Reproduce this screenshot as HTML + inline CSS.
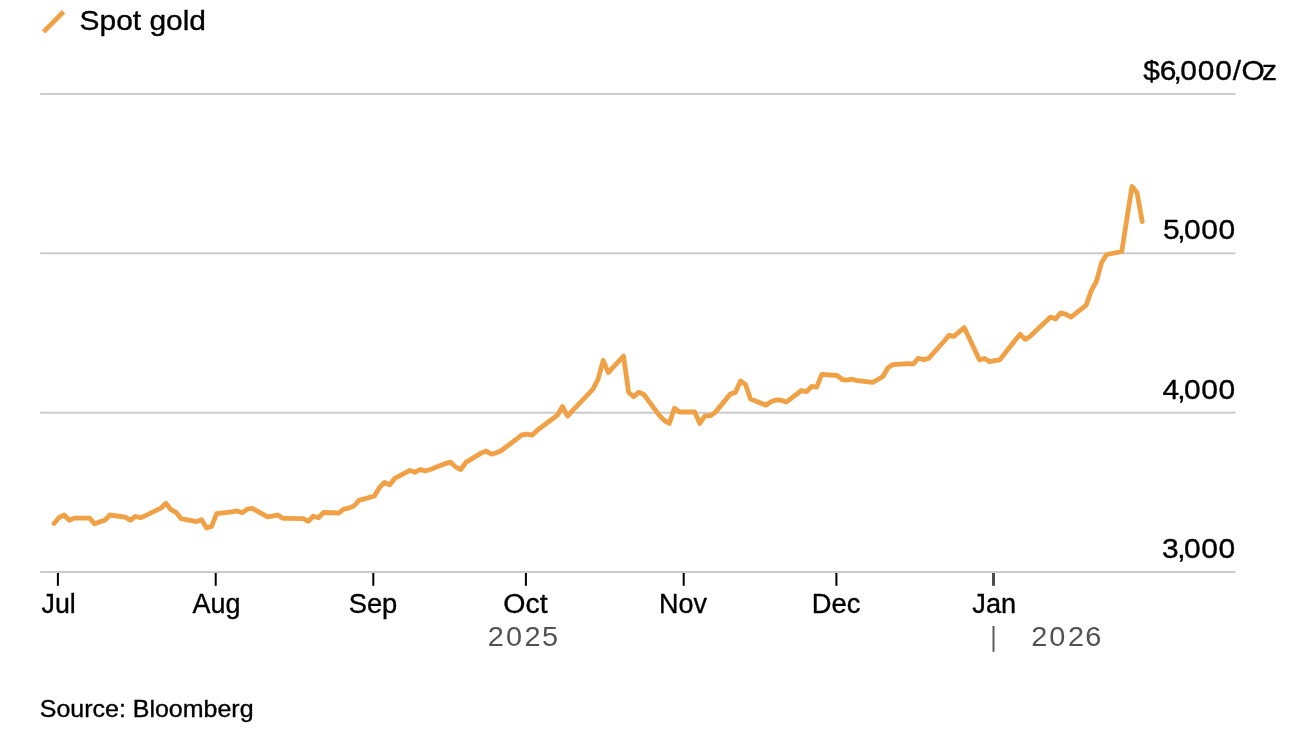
<!DOCTYPE html>
<html lang="en"><head><meta charset="utf-8"><title>Spot gold</title>
<style>html,body{margin:0;padding:0;background:#fff}svg{display:block}text{font-kerning:normal}text.k{stroke:#000;stroke-width:0.35px;stroke-linejoin:round}</style>
</head><body>
<svg width="1294" height="738" viewBox="0 0 1294 738" font-family='"Liberation Sans", Arial, Helvetica, sans-serif'>
<rect width="1294" height="738" fill="#fff"/>
<rect x="40.2" y="93.0" width="1195.2" height="2" fill="#cbcbcb"/>
<rect x="40.2" y="252.3" width="1195.2" height="2" fill="#cbcbcb"/>
<rect x="40.2" y="411.7" width="1195.2" height="2" fill="#cbcbcb"/>
<rect x="40.2" y="571.0" width="1195.2" height="2" fill="#cbcbcb"/>
<rect x="56.9" y="573" width="2" height="12.8" fill="#000"/>
<rect x="214.7" y="573" width="2" height="12.8" fill="#000"/>
<rect x="372.3" y="573" width="2" height="12.8" fill="#000"/>
<rect x="524.9" y="573" width="2" height="12.8" fill="#000"/>
<rect x="682.7" y="573" width="2" height="12.8" fill="#000"/>
<rect x="835.4" y="573" width="2" height="12.8" fill="#000"/>
<rect x="992" y="573" width="3" height="12.8" fill="#4d4d4d"/>
<rect x="992.5" y="626" width="2" height="25.8" fill="#5c5c5c"/>
<path d="M54.0,523.5 L59.1,517.5 L64.2,515.0 L69.3,520.2 L74.4,518.1 L89.6,518.1 L94.7,523.9 L99.8,521.8 L104.9,520.2 L109.9,515.0 L125.2,517.1 L130.3,520.2 L135.4,516.5 L140.5,517.7 L145.5,515.6 L160.8,508.2 L165.9,503.2 L171.0,509.7 L176.1,512.4 L181.1,518.6 L196.4,521.6 L201.5,519.8 L206.6,528.0 L211.6,526.4 L216.7,513.6 L232.0,511.9 L237.1,510.9 L242.2,512.8 L247.2,509.1 L252.3,508.4 L267.6,516.8 L272.7,516.1 L277.7,515.0 L282.8,518.3 L287.9,518.3 L303.2,518.7 L308.3,521.4 L313.3,516.2 L318.4,517.7 L323.5,512.5 L338.8,513.0 L343.8,509.2 L348.9,508.1 L354.0,505.9 L359.1,500.4 L374.4,496.0 L379.4,487.7 L384.5,482.4 L389.6,484.9 L394.7,478.4 L410.0,470.4 L415.0,472.3 L420.1,469.5 L425.2,471.0 L430.3,469.5 L445.5,463.6 L450.6,462.1 L455.7,467.1 L460.8,469.5 L465.9,462.4 L481.1,453.1 L486.2,451.0 L491.3,454.2 L496.4,452.7 L501.5,450.5 L516.7,439.0 L521.8,434.8 L526.9,434.1 L532.0,435.2 L537.1,430.4 L552.3,419.0 L557.4,415.2 L562.5,406.5 L567.6,416.2 L572.7,410.4 L587.9,394.6 L593.0,389.2 L598.1,379.1 L603.2,360.4 L608.3,372.6 L623.5,356.1 L628.6,392.2 L633.7,396.7 L638.8,392.1 L643.9,394.5 L659.1,415.1 L664.2,420.4 L669.3,423.5 L674.4,408.3 L679.4,412.0 L694.7,412.0 L699.8,423.4 L704.9,415.9 L710.0,415.9 L715.0,412.6 L730.3,394.1 L735.4,392.4 L740.5,381.1 L745.5,384.5 L750.6,399.0 L765.9,405.2 L771.0,401.8 L776.1,400.0 L781.1,400.2 L786.2,402.1 L801.5,390.5 L806.6,391.6 L811.7,386.3 L816.7,387.2 L821.8,374.3 L837.1,375.5 L842.2,379.5 L847.2,380.1 L852.3,379.2 L857.4,380.7 L872.7,382.3 L877.8,379.5 L882.8,376.7 L887.9,367.7 L893.0,364.6 L908.3,363.6 L913.3,364.0 L918.4,358.2 L923.5,359.7 L928.6,358.4 L943.9,341.5 L948.9,335.3 L954.0,336.3 L959.1,331.9 L964.2,327.6 L979.4,359.8 L984.5,358.5 L989.6,361.6 L994.7,360.6 L999.8,359.8 L1015.0,340.6 L1020.1,334.2 L1025.2,339.4 L1030.3,336.3 L1035.4,331.3 L1050.6,317.1 L1055.7,318.9 L1060.8,312.8 L1065.9,314.4 L1071.0,317.1 L1086.2,305.2 L1091.3,290.6 L1096.4,281.5 L1101.5,262.8 L1106.6,254.5 L1121.8,251.5 L1126.9,218.7 L1132.0,186.5 L1137.1,192.8 L1142.2,221.6" fill="none" stroke="#F0A145" stroke-width="4.8" stroke-linejoin="round" stroke-linecap="round"/>
<line x1="43.6" y1="31.9" x2="63.55" y2="11.8" stroke="#F0A145" stroke-width="4.8"/>
<text transform="translate(79.55,30.1) scale(1.0655,1)" font-size="28.1" fill="#000" class="k">Spot gold</text>
<text transform="translate(0,80.0) scale(1.1,1)" x="1039.27 1054.23 1066.87 1073.05 1088.78 1104.68 1120.77 1128.73 1147.32" font-size="27.2" fill="#000" class="k">$6,000/Oz</text>
<text transform="translate(0,238.9) scale(1.1,1)" x="1057.23 1070.14 1076.28 1092.05 1107.68" font-size="27.2" fill="#000" class="k">5,000</text>
<text transform="translate(0,398.7) scale(1.1,1)" x="1056.87 1070.14 1076.28 1092.05 1107.68" font-size="27.2" fill="#000" class="k">4,000</text>
<text transform="translate(0,558.0) scale(1.1,1)" x="1056.41 1070.14 1076.28 1092.05 1107.68" font-size="27.2" fill="#000" class="k">3,000</text>
<text transform="translate(41.50,612.9) scale(0.9918,1)" font-size="27" fill="#000" class="k">Jul</text>
<text transform="translate(192.50,612.9) scale(0.9977,1)" font-size="27" fill="#000" class="k">Aug</text>
<text transform="translate(348.67,612.9) scale(1.0117,1)" font-size="27" fill="#000" class="k">Sep</text>
<text transform="translate(503.32,612.9) scale(1.0557,1)" font-size="27" fill="#000" class="k">Oct</text>
<text transform="translate(659.04,612.9) scale(0.9986,1)" font-size="27" fill="#000" class="k">Nov</text>
<text transform="translate(811.71,612.9) scale(1.0127,1)" font-size="27" fill="#000" class="k">Dec</text>
<text transform="translate(972.29,612.9) scale(1.0070,1)" font-size="27" fill="#000" class="k">Jan</text>
<text transform="translate(0,645.7) scale(1.07,1)" x="455.80 472.80 490.29 506.54" font-size="27.0" fill="#525252">2025</text>
<text transform="translate(0,645.7) scale(1.07,1)" x="963.84 980.56 998.14 1014.21" font-size="27.0" fill="#525252">2026</text>
<text transform="translate(39.78,716.5) scale(1.0286,1)" font-size="24.3" fill="#000" class="k">Source: Bloomberg</text>
</svg>
</body></html>
